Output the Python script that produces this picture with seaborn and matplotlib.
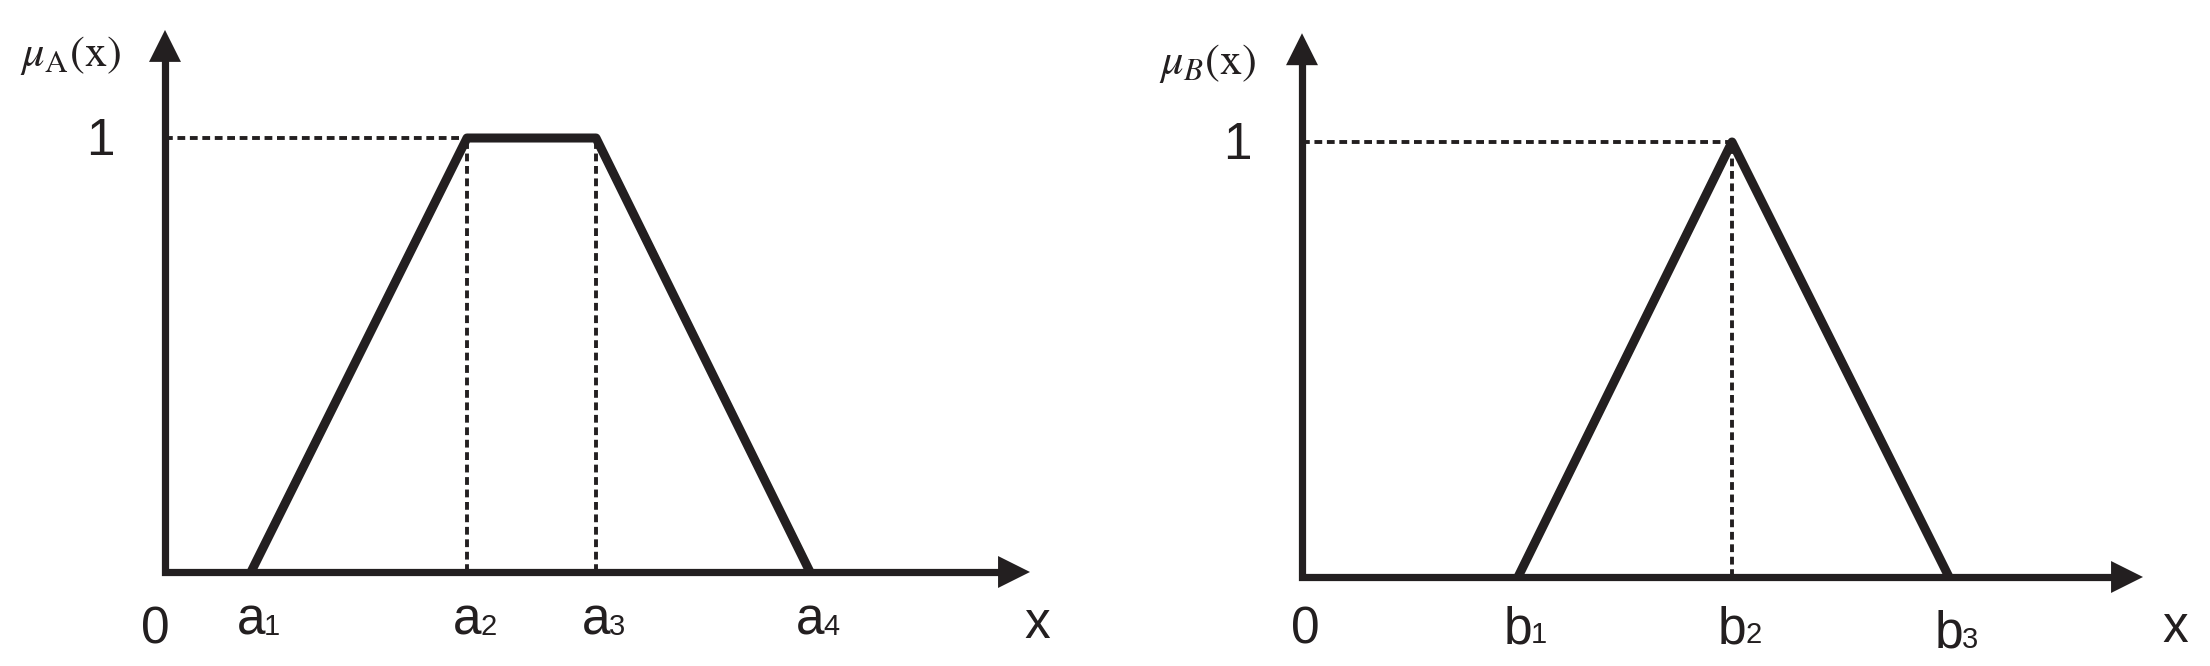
import matplotlib
matplotlib.use("Agg")
import matplotlib.pyplot as plt
from matplotlib import font_manager
import seaborn as sns

# trapezoid membership function A
a_points = [0.86, 3.02, 4.31, 6.45]
mu_a = [0, 1, 1, 0]
a_subs = ["1", "2", "3", "4"]

# triangle membership function B
b_points = [2.16, 4.30, 6.47]
mu_b = [0, 1, 0]
b_subs = ["1", "2", "3"]

INK = "#231f20"

sns.set_theme(style="white")
installed = {f.name for f in font_manager.fontManager.ttflist}
families = [f for f in ["Liberation Sans Narrow", "Liberation Sans"] if f in installed]
plt.rcParams["font.family"] = families + ["DejaVu Sans"]
plt.rcParams["mathtext.fontset"] = "stix"


def draw_axes(ax, x_end, y_end):
    """Axis lines with filled arrow heads."""
    ax.plot([0, 0, x_end - 0.3], [y_end - 0.07, 0, 0], color=INK, lw=5.2,
            solid_joinstyle="miter", solid_capstyle="butt")
    head = dict(arrowstyle="-|>,head_length=2.3,head_width=1.15",
                mutation_scale=10, lw=0, color=INK, shrinkA=0, shrinkB=0)
    ax.annotate("", xy=(x_end, 0), xytext=(0, 0), arrowprops=head)
    ax.annotate("", xy=(0, y_end), xytext=(0, 0), arrowprops=head)


def guide(ax, xs, ys):
    ax.plot(xs, ys, color=INK, lw=2.8, linestyle=(0, (2.0, 1.2)))


def sub_label(ax, x, y, main, sub):
    ax.text(x, y, main, ha="center", va="baseline", fontsize=37, color=INK)
    ax.annotate(sub, xy=(x, y), xytext=(9.5, 0), textcoords="offset points",
                ha="left", va="baseline", fontsize=21, color=INK)


fig = plt.figure(figsize=(22.1, 6.66), dpi=100)

# left panel: mu_A
ax1 = fig.add_axes([0, 0, 0.5, 1])
ax1.set_xlim(-1.65, 9.40)
ax1.set_ylim(-0.2166, 1.318)
ax1.axis("off")
draw_axes(ax1, 8.65, 1.249)
guide(ax1, [0, a_points[1]], [1, 1])
guide(ax1, [a_points[1], a_points[1]], [0, 1])
guide(ax1, [a_points[2], a_points[2]], [0, 1])
sns.lineplot(x=a_points, y=mu_a, ax=ax1, color=INK, lw=6.5, sort=False,
             solid_capstyle="butt")
for xv, s in zip(a_points, a_subs):
    sub_label(ax1, xv, -0.145, "a", s)
ax1.text(-0.10, -0.164, "0", ha="center", va="baseline", fontsize=37, color=INK)
ax1.text(8.72, -0.152, "x", ha="center", va="baseline", fontsize=37, color=INK)
ax1.text(-0.65, 0.962, "1", ha="center", va="baseline", fontsize=37, color=INK)
ax1.text(-0.94, 1.19, r"$\mu_{\mathrm{A}}(\mathrm{x})$", ha="center", va="center",
         fontsize=32, color=INK)

# right panel: mu_B
ax2 = fig.add_axes([0.5, 0, 0.5, 1])
ax2.set_xlim(-1.97, 9.08)
ax2.set_ylim(-0.2046, 1.3264)
ax2.axis("off")
draw_axes(ax2, 8.41, 1.25)
guide(ax2, [0, b_points[1]], [1, 1])
guide(ax2, [b_points[1], b_points[1]], [0, 1])
sns.lineplot(x=b_points, y=mu_b, ax=ax2, color=INK, lw=6.5, sort=False,
             solid_capstyle="butt")
for xv, s, yb in zip(b_points, b_subs, [-0.152, -0.152, -0.163]):
    sub_label(ax2, xv, yb, "b", s)
ax2.text(0.03, -0.152, "0", ha="center", va="baseline", fontsize=37, color=INK)
ax2.text(8.73, -0.149, "x", ha="center", va="baseline", fontsize=37, color=INK)
ax2.text(-0.65, 0.962, "1", ha="center", va="baseline", fontsize=37, color=INK)
ax2.text(-0.94, 1.18, r"$\mu_B(\mathrm{x})$", ha="center", va="center",
         fontsize=32, color=INK)

fig.savefig("out.png", dpi=100, facecolor="white")
